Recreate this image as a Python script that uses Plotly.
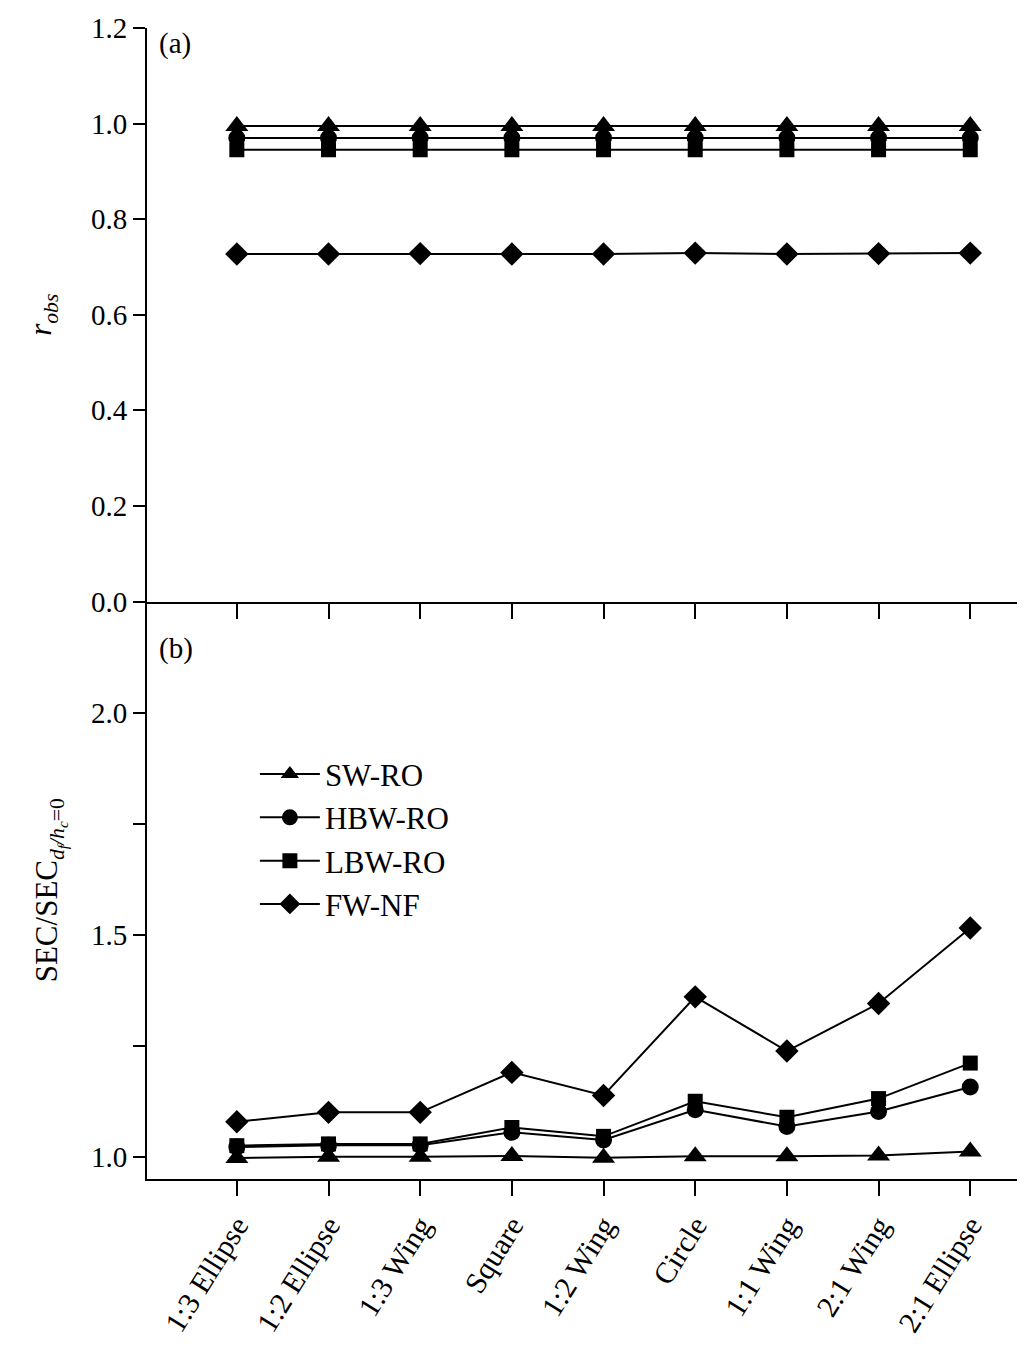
import plotly.graph_objects as go
from plotly.subplots import make_subplots

categories = ["1:3 Ellipse", "1:2 Ellipse", "1:3 Wing", "Square", "1:2 Wing",
              "Circle", "1:1 Wing", "2:1 Wing", "2:1 Ellipse"]

series_names = ["SW-RO", "HBW-RO", "LBW-RO", "FW-NF"]
symbols = ["triangle-up", "circle", "square", "diamond"]
sizes = [20, 17, 15, 18]

# Panel (a): r_obs
r_sw = [0.995, 0.995, 0.995, 0.995, 0.995, 0.995, 0.995, 0.995, 0.995]
r_hbw = [0.970, 0.970, 0.970, 0.970, 0.970, 0.970, 0.970, 0.970, 0.970]
r_lbw = [0.945, 0.945, 0.945, 0.945, 0.945, 0.945, 0.945, 0.945, 0.945]
r_fw = [0.727, 0.727, 0.728, 0.727, 0.727, 0.729, 0.727, 0.728, 0.729]

# Panel (b): SEC / SEC(df/hc=0)
sec_sw = [0.997, 1.000, 1.000, 1.002, 0.998, 1.001, 1.001, 1.003, 1.012]
sec_hbw = [1.022, 1.026, 1.026, 1.055, 1.038, 1.106, 1.068, 1.102, 1.157]
sec_lbw = [1.025, 1.029, 1.029, 1.066, 1.046, 1.125, 1.089, 1.131, 1.211]
sec_fw = [1.079, 1.100, 1.100, 1.190, 1.138, 1.360, 1.238, 1.345, 1.515]

top_data = [r_sw, r_hbw, r_lbw, r_fw]
bot_data = [sec_sw, sec_hbw, sec_lbw, sec_fw]

FONT = "Liberation Serif"

fig = make_subplots(rows=2, cols=1, shared_xaxes=True, vertical_spacing=0)

for name, sym, sz, ys in zip(series_names, symbols, sizes, top_data):
    fig.add_trace(go.Scatter(x=categories, y=ys, mode="lines+markers", name=name,
                             showlegend=False,
                             line=dict(color="black", width=2),
                             marker=dict(symbol=sym, size=sz, color="black")),
                  row=1, col=1)

for name, sym, sz, ys in zip(series_names, symbols, sizes, bot_data):
    fig.add_trace(go.Scatter(x=categories, y=ys, mode="lines+markers", name=name,
                             line=dict(color="black", width=2),
                             marker=dict(symbol=sym, size=sz, color="black")),
                  row=2, col=1)

axis_common = dict(showline=True, linecolor="black", linewidth=2, ticks="outside",
                   tickcolor="black", tickwidth=2, showgrid=False, zeroline=False,
                   tickfont=dict(family=FONT, size=29, color="black"))

split = 581 / 1158

fig.update_layout(
    width=1036, height=1350,
    margin=dict(l=147, r=19, t=22, b=170),
    paper_bgcolor="white", plot_bgcolor="white",
    font=dict(family=FONT, color="black"),
    xaxis=dict(**axis_common, range=[-0.98, 8.51], ticklen=15, showticklabels=False,
               anchor="y"),
    xaxis2=dict(showline=True, linecolor="black", linewidth=2, ticks="outside",
                tickcolor="black", tickwidth=2, showgrid=False, zeroline=False,
                tickfont=dict(family=FONT, size=30, color="black"),
                range=[-0.98, 8.51], ticklen=15, tickangle=-58, anchor="y2"),
    yaxis=dict(**axis_common, domain=[split, 1], range=[0, 1.2], dtick=0.2,
               tickformat=".1f", ticklen=12,
               title=dict(text="<i>r</i><sub><i>obs</i></sub>",
                          font=dict(family=FONT, size=31), standoff=30)),
    yaxis2=dict(**axis_common, domain=[0, split], range=[0.95, 2.25],
                tickvals=[1.0, 1.5, 2.0], ticktext=["1.0", "1.5", "2.0"], ticklen=12,
                minor=dict(tickvals=[1.25, 1.75], ticks="outside", ticklen=12,
                           tickwidth=2, tickcolor="black"),
                title=dict(text="SEC/SEC<sub><i>d<sub>f</sub>/h<sub>c</sub></i>=0</sub>",
                           font=dict(family=FONT, size=31), standoff=24)),
    legend=dict(x=0.124, y=0.375, xanchor="left", yanchor="top",
                bgcolor="rgba(0,0,0,0)", font=dict(family=FONT, size=31),
                itemwidth=60, tracegroupgap=6),
    annotations=[
        dict(text="(a)", xref="paper", yref="paper", x=0.012, y=1.003,
             xanchor="left", yanchor="top", showarrow=False,
             font=dict(family=FONT, size=29)),
        dict(text="(b)", xref="paper", yref="paper", x=0.012, y=split - 0.025,
             xanchor="left", yanchor="top", showarrow=False,
             font=dict(family=FONT, size=29)),
    ],
)

fig.write_html("out.html")
